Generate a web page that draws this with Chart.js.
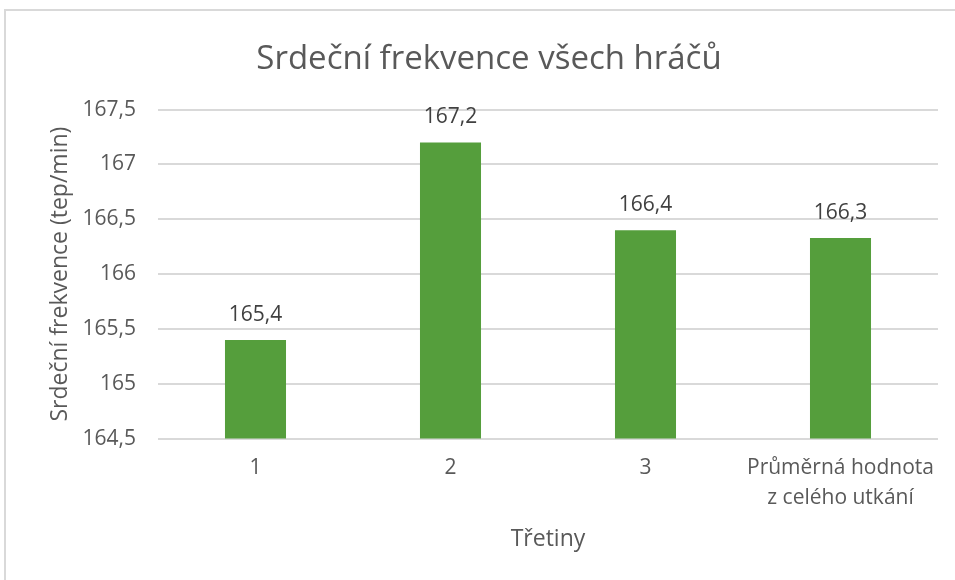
<!DOCTYPE html>
<html lang="cs">
<head>
    <meta charset="UTF-8">
    <title>Srdeční frekvence všech hráčů</title>
    <script src="https://cdn.jsdelivr.net/npm/chart.js@4.4.0/dist/chart.umd.min.js"></script>
    <style>
        body { margin: 0; background: #fff; }
        #wrap { position: relative; width: 955px; height: 580px; overflow: hidden; }
        /* rámeček grafu, jen levá a horní hrana jsou vidět */
        #frame { position: absolute; left: 4px; top: 9px; width: 1000px; height: 1000px;
                 border-left: 2px solid #d9d9d9; border-top: 2px solid #d9d9d9; }
        #chart1 { position: absolute; left: 0; top: 0; }
    </style>
</head>
<body>
<div id="wrap">
    <div id="frame"></div>
    <canvas id="chart1" width="955" height="580"></canvas>
</div>
<script>
    // data
    const categories = ['1', '2', '3', ['Průměrná hodnota', 'z celého utkání']];
    const values = [165.4, 167.2, 166.4, 166.33];
    const yMin = 164.5;
    const yMax = 167.5;
    const yStep = 0.5;

    const chartTitle = 'Srdeční frekvence všech hráčů';
    const yTitle = 'Srdeční frekvence (tep/min)';
    const xTitle = 'Třetiny';

    // desetinná čárka
    const carka = (v) => String(v).replace('.', ',');

    // popisky nad sloupci
    const barLabels = {
        id: 'barLabels',
        afterDatasetsDraw(chart) {
            const ctx = chart.ctx;
            const meta = chart.getDatasetMeta(0);
            ctx.save();
            ctx.font = '21px "Open Sans"';
            ctx.fillStyle = '#404040';
            ctx.textAlign = 'center';
            ctx.textBaseline = 'middle';
            meta.data.forEach((bar, i) => {
                ctx.fillText(carka(values[i].toFixed(1)), bar.x, bar.y - 25);
            });
            ctx.restore();
        }
    };

    const ctx = document.getElementById('chart1');
    new Chart(ctx, {
        type: 'bar',
        data: {
            labels: categories,
            datasets: [{
                data: values,
                backgroundColor: '#559e3c',
                barPercentage: 1,
                categoryPercentage: 0.313
            }]
        },
        options: {
            responsive: false,
            animation: false,
            layout: { padding: { left: 40, right: 17, top: 0, bottom: 27 } },
            plugins: {
                legend: { display: false },
                tooltip: { enabled: false },
                title: {
                    display: true,
                    text: chartTitle,
                    color: '#595959',
                    font: { family: '"Open Sans"', size: 33, weight: 'normal' },
                    padding: { top: 40, bottom: 30 }
                }
            },
            scales: {
                x: {
                    grid: { display: false, drawTicks: false },
                    border: { display: false },
                    ticks: {
                        color: '#595959',
                        font: { family: '"Open Sans"', size: 21, lineHeight: 1.4 },
                        padding: 15,
                        maxRotation: 0
                    },
                    title: {
                        display: true,
                        text: xTitle,
                        color: '#595959',
                        font: { family: '"Open Sans"', size: 23 },
                        padding: { top: -2, bottom: 0 }
                    }
                },
                y: {
                    min: yMin,
                    max: yMax,
                    grid: { color: '#d9d9d9', lineWidth: 2, drawTicks: false },
                    border: { display: false },
                    ticks: {
                        stepSize: yStep,
                        color: '#595959',
                        font: { family: '"Open Sans"', size: 21 },
                        padding: 22,
                        callback: (v) => carka(v)
                    },
                    title: {
                        display: true,
                        text: yTitle,
                        color: '#595959',
                        font: { family: '"Open Sans"', size: 23 },
                        padding: { top: 7, bottom: 4 }
                    },
                    afterFit: (scale) => { scale.width = 118; }
                }
            }
        },
        plugins: [barLabels]
    });
</script>
</body>
</html>
